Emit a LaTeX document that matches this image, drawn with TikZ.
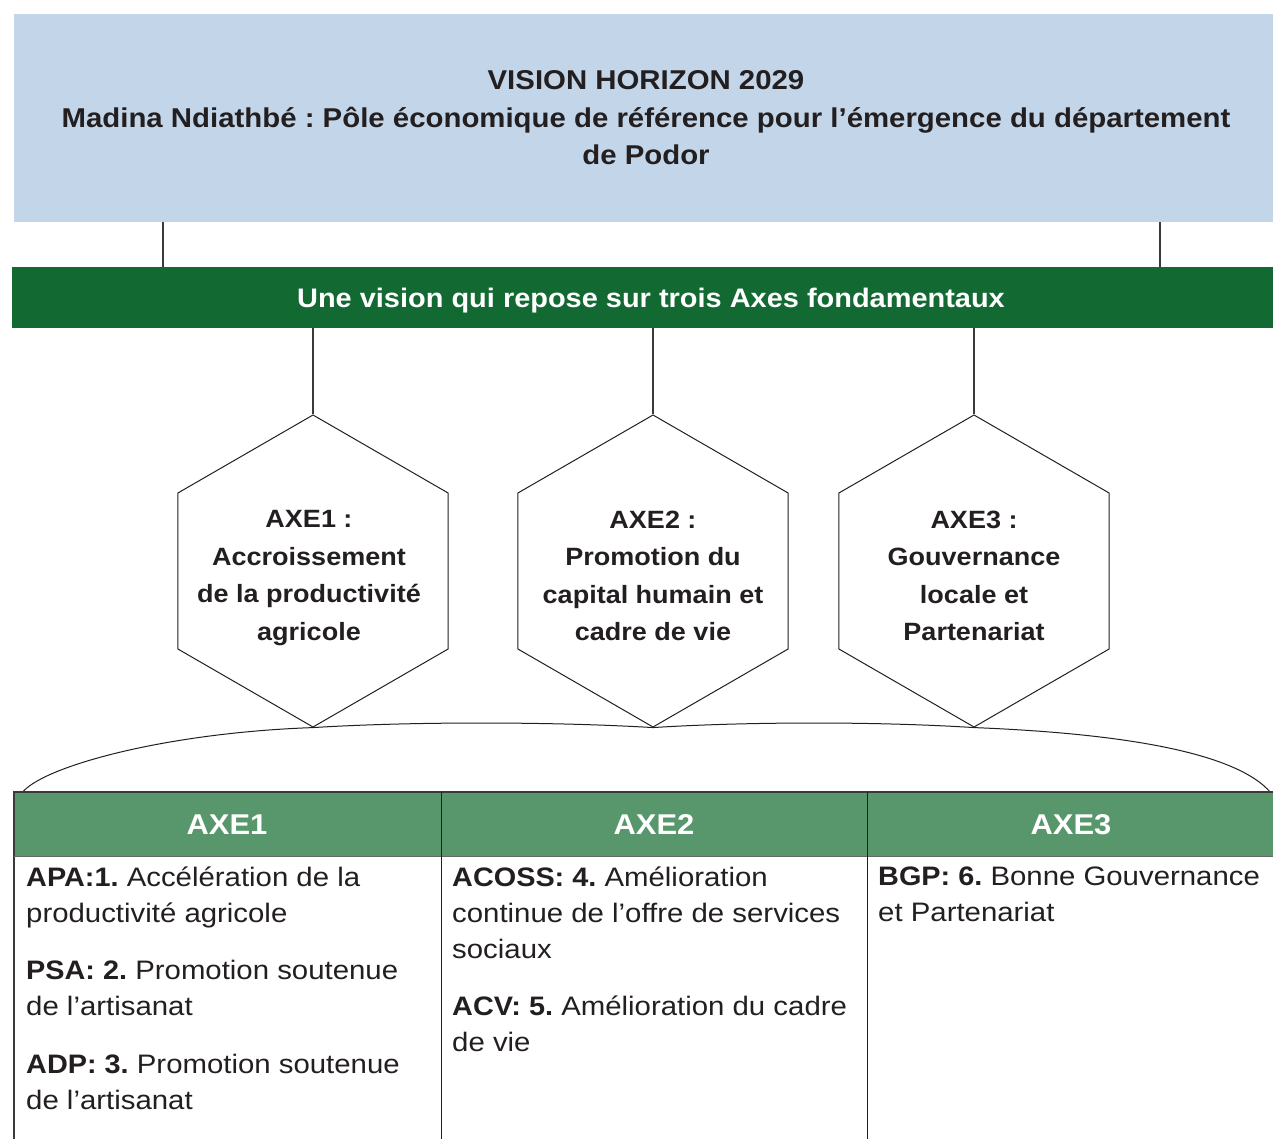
\documentclass[tikz,border=0pt]{standalone}
\usepackage{fontspec}
\setmainfont{Liberation Sans}[
  UprightFeatures={FakeStretch=1.10},
  BoldFeatures={FakeStretch=1.08}]
\usetikzlibrary{shapes.geometric}
\definecolor{visionblue}{HTML}{C3D5E8}
\definecolor{bargreen}{HTML}{126A32}
\definecolor{headgreen}{HTML}{58976C}
\definecolor{ink}{HTML}{231F20}
\definecolor{rule}{HTML}{3A3A3A}
\frenchspacing
\begin{document}
\begin{tikzpicture}[x=1pt,y=-1pt,
  link/.style={draw=rule,line width=1.1pt},
  hexa/.style={regular polygon,regular polygon sides=6,shape border rotate=30,
    minimum size=312pt,draw=ink,line width=1pt,inner sep=0pt},
  hextext/.style={align=center,font=\fontsize{25}{37.5}\selectfont\bfseries,text=ink},
  bartext/.style={font=\fontsize{26.8}{30}\selectfont\bfseries,text=white},
  headtext/.style={font=\fontsize{28.6}{34}\selectfont\bfseries,text=white},
  celltext/.style={anchor=north west,align=left,inner sep=0pt,text=ink,
    font=\fontsize{26.7}{36}\selectfont}]
\useasboundingbox (0,0) rectangle (1273,1139);

% Vision banner
\node[fill=visionblue,minimum width=1259pt,minimum height=208pt,inner sep=0pt,anchor=north west]
  (vision) at (14,14) {};
\node[align=center,text=ink,font=\fontsize{27.2}{37.5}\selectfont\bfseries] (visiontxt) at (646,118)
  {VISION HORIZON 2029\\
   Madina Ndiathbé : Pôle économique de référence pour l’émergence du département\\
   de Podor};

% Green bar of the three axes
\node[fill=bargreen,minimum width=1261pt,minimum height=61pt,inner sep=0pt,anchor=north west]
  (bar) at (12,267) {};
\node[bartext] (bartxt) at (651,301) {Une vision qui repose sur trois Axes fondamentaux};

\coordinate (va) at (163,222);
\coordinate (vb) at (1160,222);
\coordinate (ba) at (163,267);
\coordinate (bb) at (1160,267);
\draw[link] (va) -- (ba);
\draw[link] (vb) -- (bb);

% Hexagons
\node[hexa] (h1) at (313,571) {};
\node[hexa] (h2) at (653,571) {};
\node[hexa] (h3) at (974,571) {};
\node[hextext] (t1) at (309,578) {AXE1 :\\Accroissement\\de la productivité\\agricole};
\node[hextext] (t2) at (653,576) {AXE2 :\\Promotion du\\capital humain et\\cadre de vie};
\node[hextext] (t3) at (974,576) {AXE3 :\\Gouvernance\\locale et\\Partenariat};

\coordinate (b1) at (313,328);
\coordinate (b2) at (653,328);
\coordinate (b3) at (974,328);
\draw[link] (b1) -- (h1.corner 1);
\draw[link] (b2) -- (h2.corner 1);
\draw[link] (b3) -- (h3.corner 1);

% Arc through the hexagon bottoms, spanning the table
\coordinate (al) at (22,793);
\coordinate (ar) at (1271,793);
\draw[draw=ink,line width=1pt] (al) .. controls (40,768) and (160,733) .. (h1.corner 4)
  .. controls (420,721) and (560,722) .. (h2.corner 4)
  .. controls (740,722) and (870,721) .. (h3.corner 4)
  .. controls (1110,733) and (1235,750) .. (ar);

% Table
\fill[headgreen] (14,792) rectangle (1273,856);
\draw[draw=rule,line width=1.2pt] (14,1139) -- (14,792) -- (1273,792);
\draw[draw=gray!80!black,line width=1pt] (14,856) -- (1273,856);
\draw[draw=ink,line width=1pt] (441,792) -- (441,1139);
\draw[draw=ink,line width=1pt] (867,792) -- (867,1139);

\node[headtext] (c1) at (227,825) {AXE1};
\node[headtext] (c2) at (654,825) {AXE2};
\node[headtext] (c3) at (1071,825) {AXE3};

\node[celltext] (p1) at (26,867) {\textbf{APA:1.} Accélération de la\\productivité agricole};
\node[celltext] (p2) at (26,960) {\textbf{PSA: 2.} Promotion soutenue\\de l’artisanat};
\node[celltext] (p3) at (26,1054) {\textbf{ADP: 3.} Promotion soutenue\\de l’artisanat};
\node[celltext] (p4) at (452,867) {\textbf{ACOSS: 4.} Amélioration\\continue de l’offre de services\\sociaux};
\node[celltext] (p5) at (452,996) {\textbf{ACV: 5.} Amélioration du cadre\\de vie};
\node[celltext] (p6) at (878,867) {\textbf{BGP: 6.} Bonne Gouvernance\\et Partenariat};
\end{tikzpicture}
\end{document}
